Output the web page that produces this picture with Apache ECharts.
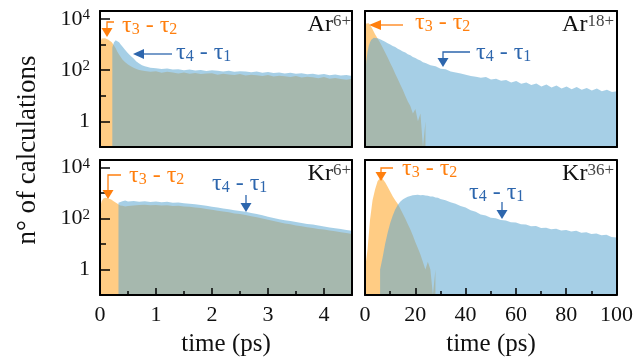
<!DOCTYPE html>
<html><head><meta charset="utf-8">
<script src="https://cdn.jsdelivr.net/npm/echarts@6/dist/echarts.min.js"></script>
<style>html,body{margin:0;padding:0;background:#fff}#c{width:636px;height:364px}</style>
</head><body><div id="c"></div>
<script>
// ---------- data (time in ps, number of calculations per bin) ----------
const ar6T = [0,0.03,0.06,0.09,0.12,0.15,0.18,0.21,0.22,0.25,0.28,0.31,0.34,0.37,0.4,0.45,0.5,0.55,0.6,0.65,0.7,0.75,0.8,0.9,1.0,1.1,1.2,1.3,1.4,1.5,1.6,1.7,1.8,1.9,2.0,2.1,2.2,2.3,2.4,2.5,2.6,2.7,2.8,2.9,3.0,3.1,3.2,3.3,3.4,3.5,3.6,3.7,3.8,3.9,4.0,4.1,4.2,4.3,4.4,4.5];
const ar6Tau32 = [1100,1700,1900,1750,1600,1500,1350,1200,1150,900,700,520,400,320,260,200,165,140,122,110,100,96,92,86,90,79,85,80,74,81,72,77,70,74,75,66,72,67,64,70,61,66,63,58,64,56,60,57,53,58,51,55,52,48,53,46,49,45,42,46];
const ar6Tau41 = [null,null,null,null,null,null,null,null,750,1200,1450,1400,1220,1000,830,610,450,350,280,215,180,155,140,124,118,110,115,104,108,99,105,96,101,92,97,94,88,93,85,90,87,82,88,79,84,76,81,74,78,71,75,69,72,66,70,63,67,61,64,59];

const ar18T = [0,0.5,1,1.5,2,2.5,3,3.5,4,5,6,7,8,9,10,11,12,13,14,15,16,17,18,19,20,21,22,23,24,26,28,30,32,34,36,38,40,42,44,46,48,50,52,54,56,58,60,62,64,66,68,70,72,74,76,78,80,82,84,86,88,90,92,94,96,98,100];
const ar18Tau32 = [4500,6500,7200,6600,5800,4800,3900,3100,2500,1700,1150,760,480,310,190,120,72,45,27,17,10,6,4,2,3,1,2,0.1,1];
const ar18Tau41 = [40,220,520,880,1200,1500,1700,1800,1820,1750,1580,1430,1260,1110,990,870,790,680,610,530,480,410,380,320,295,255,235,200,190,155,142,112,108,88,80,74,66,58,55,50,53,43,46,38,41,33,37,29,33,26,30,23,27,21,25,19,23,18,22,17,20,16,19,15,17,14,15];

const kr6T = [0,0.03,0.06,0.1,0.15,0.2,0.25,0.3,0.33,0.36,0.4,0.45,0.5,0.6,0.7,0.8,0.9,1.0,1.1,1.2,1.3,1.4,1.5,1.6,1.7,1.8,1.9,2.0,2.1,2.2,2.3,2.4,2.5,2.6,2.7,2.8,2.9,3.0,3.1,3.2,3.3,3.4,3.5,3.6,3.7,3.8,3.9,4.0,4.1,4.2,4.3,4.4,4.5];
const kr6Tau32 = [260,480,620,660,610,560,470,400,370,330,320,300,310,330,340,350,335,345,330,335,315,320,300,290,275,262,240,222,205,190,176,160,150,138,125,112,100,90,80,72,64,60,54,50,46,43,39,37,34,32,29,27,25];
const kr6Tau41 = [null,null,null,null,null,null,null,null,420,500,480,510,470,495,460,480,450,470,440,455,420,430,400,385,368,345,318,292,270,250,232,214,199,184,166,150,134,119,106,95,86,80,73,67,62,58,53,49,45,42,39,36,33];

const kr36T = [0,1,2,3,4,5,6,7,8,9,10,11,12,13,14,15,16,17,18,19,20,21,22,23,24,25,26,27,28,29,30,32,34,36,38,40,42,44,46,48,50,52,54,56,58,60,62,64,66,68,70,72,74,76,78,80,82,84,86,88,90,92,94,96,98,100];
const kr36Tau32 = [1,6,90,520,1400,2900,3900,3600,2700,1800,1150,760,520,380,250,160,100,62,38,22,12,7,4,2,1,2,1,0.1,1];
const kr36Tau41 = [null,null,null,null,null,null,1,3,10,28,65,130,230,340,460,560,650,720,780,820,840,860,830,850,800,790,740,730,670,660,590,520,440,380,310,270,215,185,145,132,108,104,88,84,72,71,60,59,50,51,43,44,38,40,34,36,31,33,28,29,25,26,22,23,19,18];

const leftTicks = [0,1,2,3,4];
const rightTicks = [0,20,40,60,80,100];
const yMajor = [1,100,10000];
const yMinor = [10,1000];
const ions = [['Ar','6+'],['Ar','18+'],['Kr','6+'],['Kr','36+']];

// ---------- chart ----------
const FONT = 'Liberation Serif';
const ORANGE = '#ff7f0e', BLUE = '#2d66ad';
const chart = echarts.init(document.getElementById('c'));

function pts(t, v){ const out=[]; for(let i=0;i<t.length && i<v.length;i++){ if(v[i]!=null) out.push([t[i], v[i]]); } return out; }

const panels = [
  {t:ar6T, o:ar6Tau32, b:ar6Tau41, xmax:4.5, minor:0.5, major:1, xl:false, yl:true},
  {t:ar18T, o:ar18Tau32, b:ar18Tau41, xmax:100, minor:10, major:20, xl:false, yl:false},
  {t:kr6T, o:kr6Tau32, b:kr6Tau41, xmax:4.5, minor:0.5, major:1, xl:true, yl:true},
  {t:kr36T, o:kr36Tau32, b:kr36Tau41, xmax:100, minor:10, major:20, xl:true, yl:false}
];
const grids = [
  {left:100, top:11, width:252, height:136},
  {left:365, top:11, width:252, height:136},
  {left:100, top:160, width:252, height:135},
  {left:365, top:160, width:252, height:135}
];
const black = {color:'#000', width:2};
const tickStyle = {color:'#000', width:1.5};
const xAxis = [], yAxis = [], series = [];
panels.forEach((p, i) => {
  const labelSet = p.major === 1 ? leftTicks : rightTicks;
  xAxis.push({type:'value', gridIndex:i, position:'bottom', min:0, max:p.xmax, interval:p.minor, z:5,
    axisLine:{show:true, onZero:false, lineStyle:black},
    axisTick:{show:p.xl, inside:true, length:4, lineStyle:tickStyle},
    axisLabel:{show:p.xl, margin:9, fontFamily:FONT, fontSize:22, color:'#111',
      formatter: v => labelSet.some(l => Math.abs(l - v) < 1e-6) ? String(Math.round(v)) : ''},
    splitLine:{show:false}});
  xAxis.push({type:'value', gridIndex:i, position:'bottom', min:0, max:p.xmax, interval:p.major, z:5,
    axisLine:{show:false, onZero:false}, axisTick:{show:p.xl, inside:true, length:7, lineStyle:tickStyle},
    axisLabel:{show:false}, splitLine:{show:false}});
  xAxis.push({type:'value', gridIndex:i, position:'top', min:0, max:p.xmax, z:5,
    axisLine:{show:true, onZero:false, lineStyle:black}, axisTick:{show:false}, axisLabel:{show:false}, splitLine:{show:false}});
  yAxis.push({type:'log', logBase:10, gridIndex:i, position:'left', min:0.1, max:20000, z:5,
    axisLine:{show:true, onZero:false, lineStyle:black},
    axisTick:{show:p.yl, inside:true, length:10, customValues:yMajor, lineStyle:tickStyle},
    axisLabel:{show:p.yl, customValues:yMajor, margin:10,
      formatter: v => { const e = Math.round(Math.log10(v)); return e === 0 ? '{b|1}' : '{b|10}{s|' + e + '}'; },
      rich:{b:{fontFamily:FONT, fontSize:22, lineHeight:22, color:'#111', verticalAlign:'bottom'},
            s:{fontFamily:FONT, fontSize:15, lineHeight:15, color:'#111', verticalAlign:'top'}}},
    splitLine:{show:false}});
  yAxis.push({type:'log', logBase:10, gridIndex:i, position:'left', min:0.1, max:20000, z:5,
    axisLine:{show:false, onZero:false}, axisTick:{show:p.yl, inside:true, length:6, customValues:yMinor, lineStyle:tickStyle},
    axisLabel:{show:false}, splitLine:{show:false}});
  yAxis.push({type:'log', logBase:10, gridIndex:i, position:'right', min:0.1, max:20000, z:5,
    axisLine:{show:true, onZero:false, lineStyle:black}, axisTick:{show:false}, axisLabel:{show:false}, splitLine:{show:false}});
  series.push({type:'line', name:'τ3 - τ2', xAxisIndex:3*i, yAxisIndex:3*i, data:pts(p.t, p.o), symbol:'none', silent:true,
    lineStyle:{width:0, opacity:0}, areaStyle:{color:'#ffa31f', opacity:0.55, origin:'start'}, z:2});
  series.push({type:'line', name:'τ4 - τ1', xAxisIndex:3*i, yAxisIndex:3*i, data:pts(p.t, p.b), symbol:'none', silent:true,
    lineStyle:{width:0, opacity:0}, areaStyle:{color:'#5da8d2', opacity:0.55, origin:'start'}, z:3});
});

function tau(x, y, a, b, color){
  return {type:'text', x:x, y:y, z:10, silent:true, style:{text:'{m|τ}{s|'+a+'}{m| - τ}{s|'+b+'}', fill:color, align:'left', verticalAlign:'middle',
    rich:{m:{fontFamily:FONT, fontSize:24, lineHeight:24, verticalAlign:'top', fill:color},
          s:{fontFamily:FONT, fontSize:16, lineHeight:16, verticalAlign:'bottom', fill:color}}}};
}
function pl(points, color){ return {type:'polyline', z:10, silent:true, shape:{points:points}, style:{stroke:color, lineWidth:1.3, fill:null}}; }
function tri(points, color){ return {type:'polygon', z:10, silent:true, shape:{points:points}, style:{fill:color}}; }
function ion(x, y, k){
  return {type:'text', x:x, y:y, z:10, silent:true, style:{text:'{m|'+ions[k][0]+'}{s|'+ions[k][1]+'}', fill:'#111', align:'right', verticalAlign:'middle',
    rich:{m:{fontFamily:FONT, fontSize:24, lineHeight:24, verticalAlign:'bottom', fill:'#111'},
          s:{fontFamily:FONT, fontSize:17, lineHeight:16, verticalAlign:'top', fill:'#444'}}}};
}

const graphic = [
  // Ar6+
  pl([[114,22],[107,22],[107,29]], ORANGE), tri([[101.5,28],[112.5,28],[107,37]], ORANGE), tau(122, 26, 3, 2, ORANGE),
  pl([[142,54],[172,54]], BLUE), tri([[133,54],[144,49],[144,59]], BLUE), tau(176, 53, 4, 1, BLUE),
  ion(351, 25, 0),
  // Ar18+
  pl([[380,25],[403,25]], ORANGE), tri([[369,25],[381,20],[381,30]], ORANGE), tau(415, 23, 3, 2, ORANGE),
  pl([[470,52],[443,52],[443,58]], BLUE), tri([[437.5,58],[448.5,58],[443,67]], BLUE), tau(476, 53, 4, 1, BLUE),
  ion(614, 25, 1),
  // Kr6+
  pl([[121,175],[108,175],[108,190]], ORANGE), tri([[102.5,190],[113.5,190],[108,199]], ORANGE), tau(129, 176, 3, 2, ORANGE),
  pl([[246,195],[246,203]], BLUE), tri([[240.5,203],[251.5,203],[246,212]], BLUE), tau(212, 184, 4, 1, BLUE),
  ion(351, 174, 2),
  // Kr36+
  pl([[393,168],[381,168],[381,172]], ORANGE), tri([[375.5,172],[386.5,172],[381,181]], ORANGE), tau(402, 169, 3, 2, ORANGE),
  pl([[502,202],[502,210]], BLUE), tri([[496.5,210],[507.5,210],[502,219]], BLUE), tau(469, 193, 4, 1, BLUE),
  ion(614, 174, 3),
  // axis titles
  {type:'text', x:226, y:344, z:10, silent:true, style:{text:'time (ps)', fill:'#111', font:'25px "Liberation Serif"', align:'center', verticalAlign:'middle'}},
  {type:'text', x:491, y:344, z:10, silent:true, style:{text:'time (ps)', fill:'#111', font:'25px "Liberation Serif"', align:'center', verticalAlign:'middle'}},
  {type:'text', x:28, y:150, rotation:Math.PI/2, z:10, silent:true, style:{text:'n° of calculations', fill:'#111', font:'27px "Liberation Serif"', align:'center', verticalAlign:'middle'}}
];

chart.setOption({
  animation:false,
  backgroundColor:'#fff',
  textStyle:{fontFamily:FONT},
  grid:grids, xAxis:xAxis, yAxis:yAxis, series:series, graphic:graphic
});
</script></body></html>
